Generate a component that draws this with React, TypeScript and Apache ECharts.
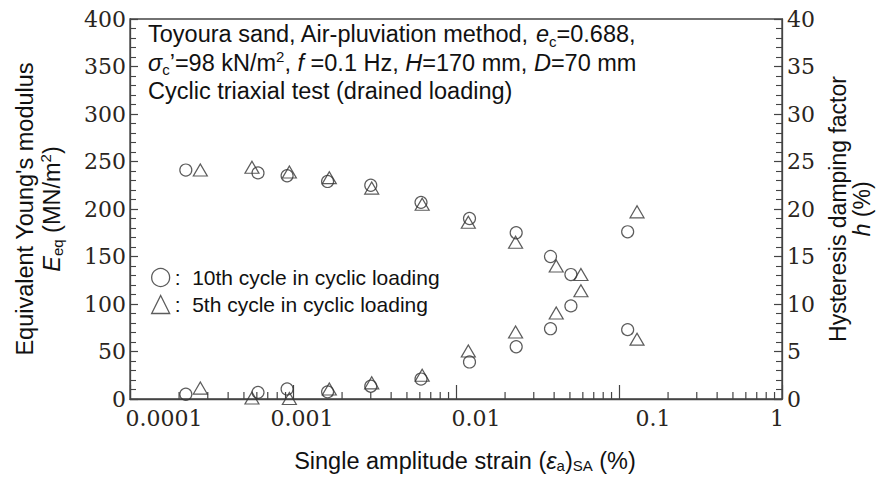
import React, { useEffect, useRef } from 'react';
import * as echarts from 'echarts';

// 10th cycle (circles)
const strainCircle = [0.00022, 0.00061, 0.00092, 0.00163, 0.003, 0.0061, 0.0121, 0.0234, 0.038, 0.0507, 0.113];
const eqCircle = [241, 238, 235, 229, 225, 207, 190, 175, 150, 131, 73];
const hCircle = [0.5, 0.7, 1.05, 0.75, 1.35, 2.1, 3.9, 5.5, 7.4, 9.8, 17.6];
// 5th cycle (triangles)
const strainTri = [0.00027, 0.00056, 0.00095, 0.00167, 0.00304, 0.0062, 0.0119, 0.0232, 0.0412, 0.0584, 0.129];
const eqTri = [241, 244, 239, 233, 222, 205, 186, 165, 140, 131, 63];
const hTri = [1.15, 0.1, 0.05, 1.05, 1.7, 2.5, 5.05, 7.05, 9.05, 11.4, 19.7];

const xTickValues = [0.0001, 0.001, 0.01, 0.1, 1];
const xTickLabels = ['0.0001', '0.001', '0.01', '0.1', '1'];
const xLabelShift = [34, 9, 20, 34, -5];
const decadeStarts = [0.0001, 0.001, 0.01, 0.1];
const minorMultipliers = [2, 3, 4, 5, 6, 7, 8, 9];

const name10 = '10th cycle in cyclic loading';
const name5 = '5th cycle in cyclic loading';

const INK = '#333';
const SANS = '"Liberation Sans", Arial, sans-serif';
const SERIF = '"DejaVu Serif", "Liberation Serif", serif';
const TICKCOL = '#2a2520';

export default function App() {
  const ref = useRef<HTMLDivElement>(null);
  useEffect(() => {
    document.body.style.margin = '0';
    if (!ref.current) return;
    const chart = echarts.init(ref.current, null, { renderer: 'svg' });
    const minorTicks: number[][] = [];
    decadeStarts.forEach((d) => minorMultipliers.forEach((m) => minorTicks.push([d * m, 0])));

    const pointStyle = { color: 'transparent', borderColor: INK, borderWidth: 1.2 };
    const rich = {
      i: { fontStyle: 'italic', fontSize: 23.5, fontFamily: SANS, color: '#111' },
      sub: { fontSize: 15, lineHeight: 15, verticalAlign: 'bottom', fontFamily: SANS, color: '#111' },
      sup: { fontSize: 15, lineHeight: 15, verticalAlign: 'top', fontFamily: SANS, color: '#111' },
    };
    const labelRich: any = {};
    xTickLabels.forEach((_, k) => {
      const s = xLabelShift[k];
      labelRich['t' + k] = {
        fontFamily: SERIF,
        fontSize: 22,
        color: TICKCOL,
        padding: s >= 0 ? [0, 0, 0, 2 * s] : [0, -2 * s, 0, 0],
      };
    });

    chart.setOption({
      animation: false,
      grid: {
        left: 130, right: 95, top: 19, bottom: 78,
        outerBoundsMode: 'none',
        containLabel: false,
        show: true, borderColor: '#444', borderWidth: 1.3, backgroundColor: 'transparent',
      },
      legend: {
        data: [name10, name5],
        orient: 'vertical',
        left: 146,
        top: 262,
        itemWidth: 18,
        itemHeight: 18,
        itemGap: 6,
        itemStyle: { color: 'transparent', borderColor: INK, borderWidth: 1.3 },
        formatter: (n: string) => ':  ' + n,
        textStyle: { fontFamily: SANS, fontSize: 21, color: '#111' },
      },
      graphic: [
        {
          type: 'text',
          left: 148,
          top: 20,
          style: {
            text:
              'Toyoura sand, Air-pluviation method, {i|e}{sub|c}=0.688,\n' +
              '{i|σ}{sub|c}’=98 kN/m{sup|2}, {i|f} =0.1 Hz, {i|H}=170 mm, {i|D}=70 mm\n' +
              'Cyclic triaxial test (drained loading)',
            fontFamily: SANS,
            fontSize: 23.5,
            lineHeight: 28.5,
            fill: '#111',
            rich: {
              i: { fontStyle: 'italic', fontSize: 23.5, fontFamily: SANS, fill: '#111' },
              sub: { fontSize: 15, lineHeight: 15, verticalAlign: 'bottom', fontFamily: SANS, fill: '#111' },
              sup: { fontSize: 15, lineHeight: 15, verticalAlign: 'top', fontFamily: SANS, fill: '#111' },
            },
          },
        },
      ],
      xAxis: {
        type: 'log',
        logBase: 10,
        min: 0.0001,
        max: 1,
        name: 'Single amplitude strain ({i|ε}{sub|a}){sub|SA} (%)',
        nameLocation: 'middle',
        nameGap: 50,
        nameTextStyle: { fontFamily: SANS, fontSize: 23.5, color: '#111', rich, padding: [0, 0, 0, 18] },
        axisLine: { lineStyle: { color: '#444', width: 1.3 } },
        axisTick: { inside: true, length: 14, lineStyle: { color: '#444', width: 1.2 } },
        minorTick: { show: false },
        splitLine: { show: false },
        axisLabel: {
          margin: 8,
          formatter: (v: number) => {
            const k = xTickValues.findIndex((t) => Math.abs(Math.log10(t) - Math.log10(v)) < 1e-6);
            return k >= 0 ? '{t' + k + '|' + xTickLabels[k] + '}' : '';
          },
          rich: labelRich,
        },
      },
      yAxis: [
        {
          type: 'value',
          min: 0,
          max: 400,
          interval: 50,
          name: "Equivalent Young's modulus\n{i|E}{sub|eq} (MN/m{sup|2})",
          nameLocation: 'middle',
          nameRotate: 90,
          nameGap: 65,
          nameTextStyle: { fontFamily: SANS, fontSize: 23.5, lineHeight: 27, color: '#111', rich },
          axisLine: { show: true, lineStyle: { color: '#444', width: 1.3 } },
          axisTick: { inside: true, length: 8, lineStyle: { color: '#444', width: 1.2 } },
          minorTick: { show: true, splitNumber: 5, length: 6, lineStyle: { color: '#444', width: 1.1 } },
          splitLine: { show: false },
          axisLabel: { margin: 4, fontFamily: SERIF, fontSize: 22, color: TICKCOL },
        },
        {
          type: 'value',
          position: 'right',
          min: 0,
          max: 40,
          interval: 5,
          name: 'Hysteresis damping factor\n{i|h} (%)',
          nameLocation: 'middle',
          nameRotate: 90,
          nameGap: 43,
          nameTextStyle: { fontFamily: SANS, fontSize: 23, lineHeight: 24, color: '#111', rich },
          axisLine: { show: true, lineStyle: { color: '#444', width: 1.3 } },
          axisTick: { inside: true, length: 8, lineStyle: { color: '#444', width: 1.2 } },
          minorTick: { show: true, splitNumber: 5, length: 6, lineStyle: { color: '#444', width: 1.1 } },
          splitLine: { show: false },
          axisLabel: { margin: 5, fontFamily: SERIF, fontSize: 22, color: TICKCOL },
        },
      ],
      series: [
        {
          name: name10,
          type: 'scatter',
          yAxisIndex: 0,
          symbol: 'circle',
          symbolSize: 12,
          itemStyle: pointStyle,
          data: strainCircle.map((x, k) => [x, eqCircle[k]]),
        },
        {
          name: name10,
          type: 'scatter',
          yAxisIndex: 1,
          symbol: 'circle',
          symbolSize: 12,
          itemStyle: pointStyle,
          data: strainCircle.map((x, k) => [x, hCircle[k]]),
        },
        {
          name: name5,
          type: 'scatter',
          yAxisIndex: 0,
          symbol: 'triangle',
          symbolSize: [14, 12],
          itemStyle: pointStyle,
          data: strainTri.map((x, k) => [x, eqTri[k]]),
        },
        {
          name: name5,
          type: 'scatter',
          yAxisIndex: 1,
          symbol: 'triangle',
          symbolSize: [14, 12],
          itemStyle: pointStyle,
          data: strainTri.map((x, k) => [x, hTri[k]]),
        },
        {
          name: 'minorTicks',
          type: 'custom',
          silent: true,
          yAxisIndex: 0,
          data: minorTicks,
          renderItem: (_p: any, api: any) => {
            const p = api.coord([api.value(0), 0]);
            return {
              type: 'line',
              shape: { x1: p[0], y1: p[1], x2: p[0], y2: p[1] - 7 },
              style: { stroke: '#444', lineWidth: 1.2 },
            };
          },
        },
      ],
    });
    return () => chart.dispose();
  }, []);
  return <div ref={ref} style={{ width: 877, height: 477 }} />;
}
